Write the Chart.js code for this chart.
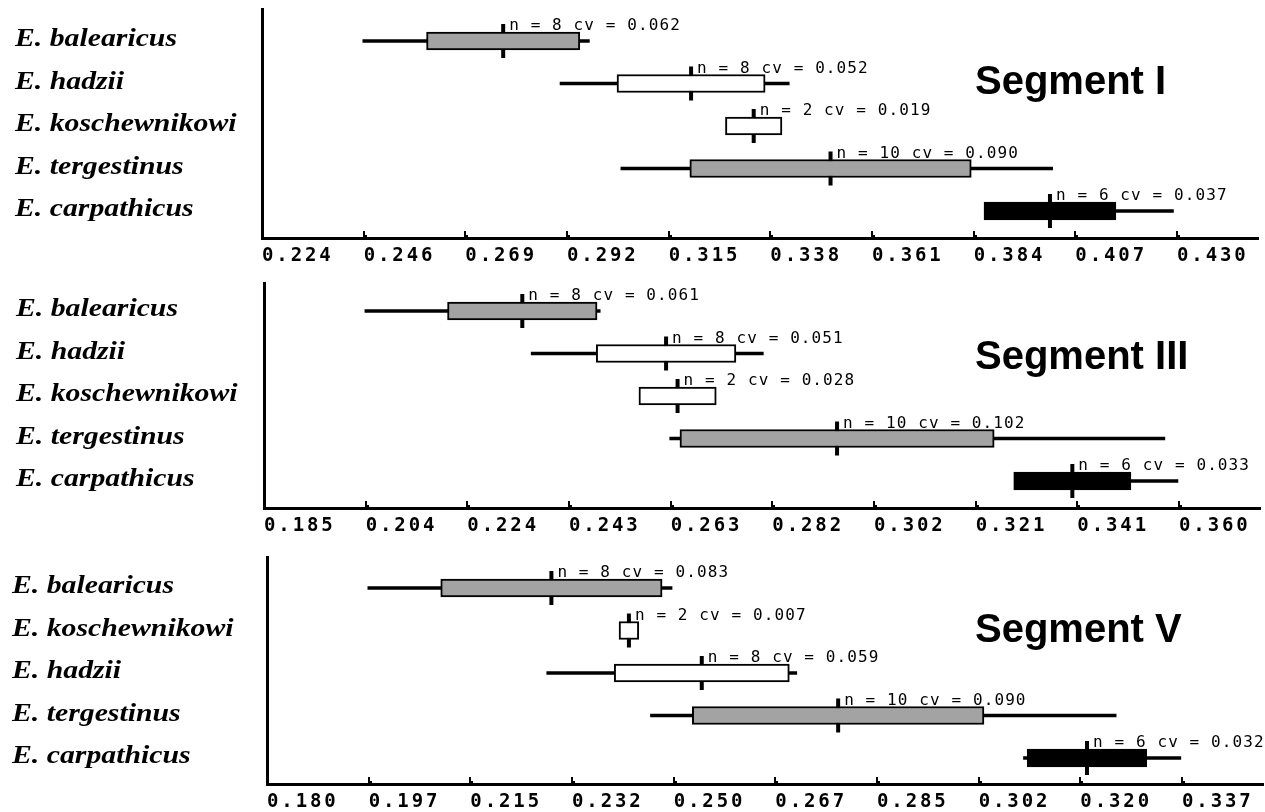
<!DOCTYPE html>
<html>
<head>
<meta charset="utf-8">
<title>Segment ratios in Eurytemora species</title>
<script src="https://cdn.jsdelivr.net/npm/chart.js@4.4.0/dist/chart.umd.min.js"></script>
<style>
  html, body { margin: 0; padding: 0; background: #ffffff; }
  #wrap { position: relative; width: 1265px; height: 812px; overflow: hidden; }
  #wrap canvas { position: absolute; left: 0; }
</style>
</head>
<body>
<div id="wrap">
  <canvas id="segI" width="1265" height="270" style="top:0px"></canvas>
  <canvas id="segIII" width="1265" height="270" style="top:270px"></canvas>
  <canvas id="segV" width="1265" height="272" style="top:540px"></canvas>
</div>
<script>
// ---- Segment I ----
const speciesSegI = ['E. balearicus', 'E. hadzii', 'E. koschewnikowi', 'E. tergestinus', 'E. carpathicus'];
const nSegI    = [8, 8, 2, 10, 6];
const cvSegI   = [0.062, 0.052, 0.019, 0.090, 0.037];
const meanSegI = [0.2783, 0.3206, 0.3347, 0.3520, 0.4014];
const minSegI  = [0.2467, 0.2911, 0.3303, 0.3048, 0.3893];
const maxSegI  = [0.2977, 0.3427, 0.3391, 0.4020, 0.4292];
const ticksSegI = ['0.224', '0.246', '0.269', '0.292', '0.315', '0.338', '0.361', '0.384', '0.407', '0.430'];

// ---- Segment III ----
const speciesSegIII = ['E. balearicus', 'E. hadzii', 'E. koschewnikowi', 'E. tergestinus', 'E. carpathicus'];
const nSegIII    = [8, 8, 2, 10, 6];
const cvSegIII   = [0.061, 0.051, 0.028, 0.102, 0.033];
const meanSegIII = [0.2344, 0.2619, 0.2641, 0.2946, 0.3396];
const minSegIII  = [0.2043, 0.2361, 0.2603, 0.2626, 0.3320];
const maxSegIII  = [0.2493, 0.2805, 0.2679, 0.3573, 0.3598];
const ticksSegIII = ['0.185', '0.204', '0.224', '0.243', '0.263', '0.282', '0.302', '0.321', '0.341', '0.360'];

// ---- Segment V ----
const speciesSegV = ['E. balearicus', 'E. koschewnikowi', 'E. hadzii', 'E. tergestinus', 'E. carpathicus'];
const nSegV    = [8, 2, 8, 10, 6];
const cvSegV   = [0.083, 0.007, 0.059, 0.090, 0.032];
const meanSegV = [0.2288, 0.2421, 0.2546, 0.2780, 0.3207];
const minSegV  = [0.1973, 0.2415, 0.2280, 0.2458, 0.3098];
const maxSegV  = [0.2495, 0.2427, 0.2709, 0.3257, 0.3368];
const ticksSegV = ['0.180', '0.197', '0.215', '0.232', '0.250', '0.267', '0.285', '0.302', '0.320', '0.337'];

// box fill per species
const speciesFill = {
  'E. balearicus': '#a3a3a3',
  'E. hadzii': '#ffffff',
  'E. koschewnikowi': '#ffffff',
  'E. tergestinus': '#a3a3a3',
  'E. carpathicus': '#000000'
};

// panel geometry (page pixels)
const panels = [
  { canvas: 'segI', title: 'Segment I', canvasTop: 0, canvasH: 270,
    areaLeft: 262, areaTop: 9, areaBottom: 238, rowFirst: 41, rowStep: 42.5,
    nameX: 15, titleBase: 94,
    species: speciesSegI, n: nSegI, cv: cvSegI, mean: meanSegI, min: minSegI, max: maxSegI, ticks: ticksSegI },
  { canvas: 'segIII', title: 'Segment III', canvasTop: 270, canvasH: 270,
    areaLeft: 264, areaTop: 283.5, areaBottom: 508, rowFirst: 311, rowStep: 42.5,
    nameX: 16, titleBase: 369,
    species: speciesSegIII, n: nSegIII, cv: cvSegIII, mean: meanSegIII, min: minSegIII, max: maxSegIII, ticks: ticksSegIII },
  { canvas: 'segV', title: 'Segment V', canvasTop: 540, canvasH: 272,
    areaLeft: 267, areaTop: 557.5, areaBottom: 784, rowFirst: 588, rowStep: 42.5,
    nameX: 12, titleBase: 642,
    species: speciesSegV, n: nSegV, cv: cvSegV, mean: meanSegV, min: minSegV, max: maxSegV, ticks: ticksSegV }
];

const AREA_WIDTH = 996;      // length of the horizontal axis
const TICK_SPAN = 915;       // pixels between first and last tick
const TICK_PAD = 9;
const TICK_FONT = 19;

const decorations = {
  id: 'decorations',
  beforeDraw(chart) { chart.ctx.letterSpacing = '2.9px'; },
  beforeDatasetsDraw(chart) { chart.ctx.letterSpacing = '0px'; },
  afterDraw(chart, args, opts) {
    const p = opts.panel;
    const { ctx, chartArea } = chart;
    const x = chart.scales.x, y = chart.scales.y;
    ctx.save();
    ctx.fillStyle = '#000';

    // small tick stubs standing on the axis
    x.ticks.forEach(t => {
      const px = Math.round(x.getPixelForValue(t.value));
      if (px - chartArea.left < 3) return;
      ctx.fillRect(px - 1, chartArea.bottom - 7, 2, 6);
      ctx.fillRect(px, chartArea.bottom - 3, 3, 2);
    });

    // sample size and coefficient of variation above each box
    ctx.font = '16px "DejaVu Sans Mono"';
    ctx.letterSpacing = '1.1px';
    ctx.textAlign = 'left';
    ctx.textBaseline = 'alphabetic';
    p.mean.forEach((m, i) => {
      const px = x.getPixelForValue(m);
      const py = y.getPixelForValue(i);
      ctx.fillText('n = ' + p.n[i] + ' cv = ' + p.cv[i].toFixed(3), px + 6, py - 11);
    });

    // species names
    ctx.letterSpacing = '0px';
    ctx.font = 'italic bold 25px "Liberation Serif"';
    ctx.textBaseline = 'middle';
    p.species.forEach((s, i) => {
      const py = y.getPixelForValue(i);
      ctx.save();
      ctx.translate(p.nameX, py - 1);
      ctx.scale(1.19, 1);
      ctx.fillText(s, 0, 0);
      ctx.restore();
    });

    // panel title
    ctx.font = 'bold 40px "Liberation Sans"';
    ctx.textBaseline = 'alphabetic';
    ctx.fillText(p.title, 975, p.titleBase - p.canvasTop);
    ctx.restore();
  }
};

panels.forEach(p => {
  const first = parseFloat(p.ticks[0]);
  const last = parseFloat(p.ticks[p.ticks.length - 1]);
  const step = (last - first) / (p.ticks.length - 1);
  const tickValues = p.ticks.map((_, i) => first + i * step);
  const xMax = first + (last - first) * AREA_WIDTH / TICK_SPAN;

  const rows = p.species.length;
  const yMin = -(p.rowFirst - p.areaTop) / p.rowStep;
  const yMax = (rows - 1) + (p.areaBottom - (p.rowFirst + (rows - 1) * p.rowStep)) / p.rowStep;

  const want = {
    left: p.areaLeft,
    right: p.areaLeft + AREA_WIDTH,
    top: p.areaTop - p.canvasTop,
    bottom: p.areaBottom - p.canvasTop
  };
  const padding = {
    left: want.left,
    right: 1265 - want.right,
    top: want.top,
    bottom: p.canvasH - want.bottom - (TICK_PAD + TICK_FONT)
  };

  const chart = new Chart(document.getElementById(p.canvas), {
    type: 'bar',
    data: {
      datasets: [
        {
          type: 'bar', label: 'range', indexAxis: 'y', grouped: false, order: 2,
          data: p.species.map((s, i) => ({ x: [p.min[i], p.max[i]], y: i })),
          barThickness: 3, backgroundColor: '#000', borderWidth: 0
        },
        {
          type: 'bar', label: 'mean ± SD', indexAxis: 'y', grouped: false, order: 1,
          data: p.species.map((s, i) => ({ x: [p.mean[i] * (1 - p.cv[i]), p.mean[i] * (1 + p.cv[i])], y: i })),
          barThickness: 18, borderWidth: 2, borderColor: '#000', borderSkipped: false,
          backgroundColor: p.species.map(s => speciesFill[s])
        },
        {
          type: 'scatter', label: 'mean', order: 3,
          data: p.species.map((s, i) => ({ x: p.mean[i], y: i })),
          pointStyle: 'line', rotation: 90, radius: 17, borderWidth: 4,
          borderColor: '#000', backgroundColor: '#000', clip: false
        }
      ]
    },
    options: {
      responsive: false,
      animation: false,
      indexAxis: 'y',
      layout: { autoPadding: false, padding: padding },
      plugins: {
        legend: { display: false },
        tooltip: { enabled: false },
        decorations: { panel: p }
      },
      scales: {
        x: {
          type: 'linear', position: 'bottom', min: first, max: xMax, offset: false,
          afterBuildTicks: s => { s.ticks = tickValues.map(v => ({ value: v })); },
          grid: { display: false, drawTicks: false, tickLength: 0 },
          border: { display: true, width: 3, color: '#000' },
          ticks: {
            autoSkip: false, maxRotation: 0, minRotation: 0, align: 'start',
            padding: TICK_PAD, color: '#000',
            font: { family: 'DejaVu Sans Mono', weight: 'bold', size: TICK_FONT, lineHeight: 1 },
            callback: (v, i) => p.ticks[i]
          }
        },
        y: {
          type: 'linear', position: 'left', reverse: true, min: yMin, max: yMax,
          offset: false, grace: 0,
          grid: { display: false, drawTicks: false, tickLength: 0, offset: false },
          border: { display: true, width: 3, color: '#000' },
          ticks: { display: false }
        }
      }
    },
    plugins: [decorations]
  });

  // settle the plot area exactly where the axes belong
  const a = chart.chartArea;
  padding.left += want.left - a.left;
  padding.top += want.top - a.top;
  padding.right += a.right - want.right;
  padding.bottom += a.bottom - want.bottom;
  chart.options.layout.padding = padding;
  chart.update();
});
</script>
</body>
</html>
